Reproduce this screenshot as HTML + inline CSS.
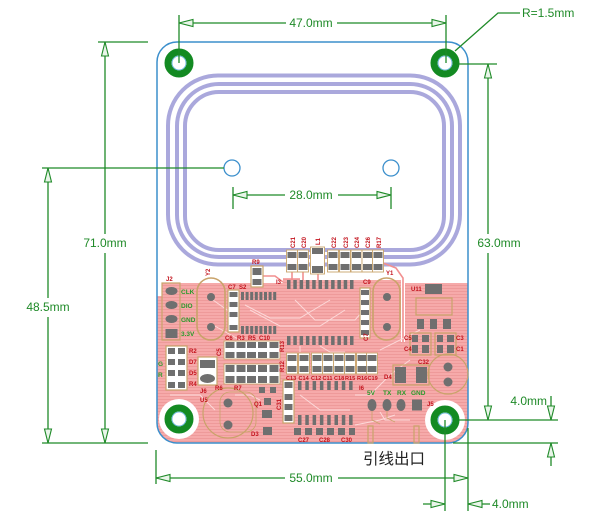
<!DOCTYPE html>
<html><head><meta charset="utf-8"><style>
html,body{margin:0;padding:0;background:#fff;}
svg{display:block;}
.d{fill:#1f8a28;font-family:"Liberation Sans",sans-serif;font-size:12px;}
.r{fill:#c3121c;font-family:"Liberation Sans",sans-serif;font-size:6px;font-weight:bold;}
.g{fill:#2a9a2a;font-family:"Liberation Sans",sans-serif;font-size:6.5px;font-weight:bold;}
</style></head><body>
<svg width="600" height="524" viewBox="0 0 600 524" xmlns="http://www.w3.org/2000/svg">
<defs>
<pattern id="h" width="6" height="3" patternUnits="userSpaceOnUse"><rect width="6" height="3" fill="#f6aaaa"/><rect width="6" height="0.8" fill="#ec9696"/></pattern>
<clipPath id="bd"><rect x="157" y="42" width="311" height="401" rx="20"/></clipPath>
</defs>
<rect width="600" height="524" fill="#fff"/>

<!-- coil -->
<g fill="none" stroke="#aaa8dc" stroke-width="4">
<rect x="168" y="75.5" width="292" height="189" rx="50"/>
<rect x="177" y="84" width="275" height="173" rx="42"/>
<rect x="185" y="92" width="259" height="158" rx="34"/>
</g>

<!-- pink copper region -->
<g clip-path="url(#bd)">
<path d="M150,296 L162,296 L162,283 L283,283 L283,278 L300,278 L300,280 L401,280 L401,342 L405,342 L405,283 L475,283 L475,450 L150,450 Z" fill="url(#h)"/>
<circle cx="179" cy="419" r="20" fill="#fff"/>
<circle cx="445" cy="420" r="20" fill="#fff"/>
<!-- traces -->
<g fill="none" stroke="#f28f8f" stroke-width="1.6">
<polyline points="292,270 292,280"/>
<polyline points="303,270 303,280"/>
<polyline points="383,263 396,268 403,278 403,342"/>
<polyline points="262,276 275,276 283,282"/>
<polyline points="318,273 318,280"/>
</g>
<g fill="none" stroke="#fcd9d9" stroke-width="1">
<polyline points="245,305 270,318 300,318 330,300"/>
<polyline points="250,310 280,326 320,326 345,310"/>
<polyline points="295,300 315,320 355,320 362,312"/>
<polyline points="300,346 300,352"/>
<polyline points="320,346 330,352 345,352"/>
<polyline points="213,300 230,312"/>
<polyline points="213,325 240,340"/>
<polyline points="300,395 320,410 350,410"/>
<polyline points="355,395 370,395 390,375 410,360"/>
<polyline points="380,350 420,330"/>
<polyline points="170,395 200,395 215,410"/>
<polyline points="235,395 250,395 260,400"/>
<polyline points="355,425 380,420 395,415"/>
<polyline points="380,412 385,420 410,420"/>
</g>
<g fill="none" stroke="#c9a36a" stroke-width="0.8">
<rect x="220" y="392" width="36" height="40" rx="10"/>
<polyline points="372,411 372,420 380,424"/>
<polyline points="387,411 387,418 395,422"/>
</g>
</g>

<!-- board outline -->
<rect x="157" y="42" width="311" height="401" rx="20" fill="none" stroke="#3b8fcc" stroke-width="1.5"/>

<!-- mounting holes -->
<g fill="#fff" stroke="#138a22" stroke-width="7">
<circle cx="179" cy="63" r="11"/><circle cx="445" cy="63" r="11"/>
<circle cx="179" cy="419" r="11"/><circle cx="445" cy="420" r="11"/>
</g>
<g fill="none" stroke="#5ab0d8" stroke-width="0.8">
<circle cx="179" cy="63" r="7"/><circle cx="445" cy="63" r="7"/>
<circle cx="179" cy="419" r="7"/><circle cx="445" cy="420" r="7"/>
</g>
<!-- antenna small holes -->
<g fill="#fff" stroke="#3b8fcc" stroke-width="1.3">
<circle cx="232" cy="168" r="8"/><circle cx="391" cy="168" r="8"/>
</g>

<!-- components -->
<g fill="none" stroke="#c9a36a" stroke-width="1.2">
<rect x="162" y="283" width="18" height="57"/>
<rect x="197" y="278" width="28" height="62" rx="14" stroke-width="1.6"/>
<rect x="228" y="290" width="11" height="42" fill="#fff"/>
<rect x="373" y="278" width="27" height="62" rx="13.5" stroke-width="1.6"/>
<rect x="360" y="288" width="10" height="50" fill="#fff"/>
<rect x="251" y="266" width="12" height="21" fill="#fff"/>
<rect x="416" y="298" width="36" height="17"/>
<rect x="393" y="365" width="36" height="20"/>
<circle cx="448" cy="374" r="20"/>
<circle cx="228" cy="413" r="25"/>
<rect x="166" y="346" width="21" height="44" fill="#fff"/>
<rect x="198" y="357" width="19" height="28" fill="#fff"/>
<rect x="283" y="380" width="11" height="43" fill="#fff"/>
<rect x="368" y="426" width="5" height="17"/>
<rect x="414" y="426" width="5" height="17"/>
<rect x="410" y="333" width="21" height="22"/>
<rect x="435" y="333" width="21" height="22"/>
</g>

<g fill="#6f6f6f">
<!-- J2 -->
<ellipse cx="171.5" cy="291" rx="6" ry="4"/><ellipse cx="171.5" cy="305" rx="6" ry="4"/><ellipse cx="171.5" cy="319" rx="6" ry="4"/>
<rect x="165.5" y="329" width="12" height="9"/>
<!-- Y2 / Y1 -->
<circle cx="211" cy="297" r="4"/><circle cx="211" cy="327" r="4"/>
<circle cx="387" cy="297" r="4"/><circle cx="387" cy="327" r="4"/>
<!-- column near Y2 -->
<rect x="229.5" y="292" width="8" height="5"/><rect x="229.5" y="302" width="8" height="5"/><rect x="229.5" y="312" width="8" height="5"/><rect x="229.5" y="325" width="8" height="5"/>
<!-- column near Y1 -->
<rect x="361" y="290" width="8" height="5"/><rect x="361" y="300" width="8" height="5"/><rect x="361" y="310" width="8" height="5"/><rect x="361" y="320" width="8" height="5"/><rect x="361" y="330" width="8" height="5"/>
<!-- R9 -->
<rect x="252.5" y="268" width="9" height="7"/><rect x="252.5" y="279" width="9" height="6"/>
<!-- left IC -->
<rect x="241" y="292" width="3" height="8"/><rect x="245.6" y="292" width="3" height="8"/><rect x="250.2" y="292" width="3" height="8"/><rect x="254.8" y="292" width="3" height="8"/><rect x="259.4" y="292" width="3" height="8"/><rect x="264" y="292" width="3" height="8"/><rect x="268.6" y="292" width="3" height="8"/><rect x="273.2" y="292" width="3" height="8"/>
<rect x="241" y="326" width="3" height="8"/><rect x="245.6" y="326" width="3" height="8"/><rect x="250.2" y="326" width="3" height="8"/><rect x="254.8" y="326" width="3" height="8"/><rect x="259.4" y="326" width="3" height="8"/><rect x="264" y="326" width="3" height="8"/><rect x="268.6" y="326" width="3" height="8"/><rect x="273.2" y="326" width="3" height="8"/>
<!-- middle IC -->
<rect x="287" y="280" width="3.5" height="9"/><rect x="293.3" y="280" width="3.5" height="9"/><rect x="299.6" y="280" width="3.5" height="9"/><rect x="305.9" y="280" width="3.5" height="9"/><rect x="312.2" y="280" width="3.5" height="9"/><rect x="318.5" y="280" width="3.5" height="9"/><rect x="324.8" y="280" width="3.5" height="9"/><rect x="331.1" y="280" width="3.5" height="9"/><rect x="337.4" y="280" width="3.5" height="9"/><rect x="343.7" y="280" width="3.5" height="9"/><rect x="350" y="280" width="3.5" height="9"/>
<rect x="287" y="336" width="3.5" height="9"/><rect x="293.3" y="336" width="3.5" height="9"/><rect x="299.6" y="336" width="3.5" height="9"/><rect x="305.9" y="336" width="3.5" height="9"/><rect x="312.2" y="336" width="3.5" height="9"/><rect x="318.5" y="336" width="3.5" height="9"/><rect x="324.8" y="336" width="3.5" height="9"/><rect x="331.1" y="336" width="3.5" height="9"/><rect x="337.4" y="336" width="3.5" height="9"/><rect x="343.7" y="336" width="3.5" height="9"/><rect x="350" y="336" width="3.5" height="9"/>
<!-- U11 -->
<rect x="425" y="284" width="17" height="10"/>
<rect x="417" y="319" width="7" height="10"/><rect x="430" y="319" width="7" height="10"/><rect x="443" y="319" width="8" height="10"/>
<rect x="412" y="335" width="6" height="7"/><rect x="422" y="335" width="7" height="7"/><rect x="437" y="335" width="6" height="7"/><rect x="447" y="335" width="7" height="7"/>
<rect x="412" y="345" width="6" height="8"/><rect x="422" y="345" width="7" height="8"/><rect x="437" y="345" width="6" height="8"/><rect x="447" y="345" width="7" height="8"/>
<!-- D4 / C32 -->
<rect x="395" y="367" width="11" height="16"/><rect x="416" y="367" width="11" height="16"/>
<circle cx="448" cy="367" r="4.5"/><circle cx="448" cy="382" r="4.5"/>
<!-- J5 -->
<ellipse cx="372" cy="405" rx="4.5" ry="6"/><ellipse cx="387" cy="405" rx="4.5" ry="6"/><ellipse cx="401" cy="405" rx="4.5" ry="6"/>
<rect x="412" y="399.5" width="10" height="11"/>
<!-- lower ICs -->
<rect x="298" y="381" width="3.5" height="9"/><rect x="305.3" y="381" width="3.5" height="9"/><rect x="312.6" y="381" width="3.5" height="9"/><rect x="319.9" y="381" width="3.5" height="9"/><rect x="327.2" y="381" width="3.5" height="9"/><rect x="334.5" y="381" width="3.5" height="9"/><rect x="341.8" y="381" width="3.5" height="9"/><rect x="349.1" y="381" width="3.5" height="9"/>
<rect x="298" y="415" width="3.5" height="10"/><rect x="305.3" y="415" width="3.5" height="10"/><rect x="312.6" y="415" width="3.5" height="10"/><rect x="319.9" y="415" width="3.5" height="10"/><rect x="327.2" y="415" width="3.5" height="10"/><rect x="334.5" y="415" width="3.5" height="10"/><rect x="341.8" y="415" width="3.5" height="10"/><rect x="349.1" y="415" width="3.5" height="10"/>
<rect x="294" y="428" width="7" height="7"/><rect x="305" y="428" width="7" height="7"/><rect x="316" y="428" width="7" height="7"/><rect x="327" y="428" width="7" height="7"/><rect x="338" y="428" width="7" height="7"/><rect x="349" y="428" width="6" height="7"/>
<!-- C31 -->
<rect x="284.5" y="382" width="8" height="6"/><rect x="284.5" y="394" width="8" height="6"/><rect x="284.5" y="404" width="8" height="6"/><rect x="284.5" y="415" width="8" height="6"/>
<!-- Q1/D3 -->
<rect x="259" y="387" width="6" height="6"/><rect x="270" y="387" width="6" height="6"/><rect x="264" y="398" width="7" height="7"/><rect x="262" y="410" width="10" height="8"/><rect x="263" y="427" width="9" height="8"/>
<!-- U5 -->
<circle cx="228" cy="403" r="4.5"/><circle cx="228" cy="425" r="4.5"/>
<!-- left block -->
<rect x="168" y="348" width="7" height="6"/><rect x="178" y="348" width="7" height="6"/>
<rect x="168" y="359" width="7" height="6"/><rect x="178" y="359" width="7" height="6"/>
<rect x="168" y="370" width="7" height="6"/><rect x="178" y="370" width="7" height="6"/>
<rect x="168" y="382" width="7" height="6"/><rect x="178" y="382" width="7" height="6"/>
<!-- J6 -->
<rect x="200" y="360" width="15" height="8"/><ellipse cx="207.5" cy="378.5" rx="7.5" ry="4.5"/>
</g>

<!-- cap footprints: top row -->
<g>
<g fill="#fff" stroke="#c9a36a" stroke-width="0.9">
<rect x="286.5" y="250" width="11" height="22"/><rect x="297.5" y="250" width="11" height="22"/>
<rect x="310.5" y="247" width="14" height="27"/>
<rect x="327.5" y="250" width="11" height="22"/><rect x="339.5" y="250" width="11" height="22"/><rect x="351" y="250" width="11" height="22"/><rect x="362" y="250" width="11" height="22"/><rect x="372.5" y="250" width="11" height="22"/>
</g>
<g fill="#6f6f6f">
<rect x="287.5" y="252" width="9" height="6"/><rect x="287.5" y="264" width="9" height="6"/>
<rect x="298.5" y="252" width="9" height="6"/><rect x="298.5" y="264" width="9" height="6"/>
<rect x="312" y="248" width="11" height="6"/><rect x="312" y="266" width="11" height="7"/>
<rect x="328.5" y="252" width="9" height="6"/><rect x="328.5" y="264" width="9" height="6"/>
<rect x="340.5" y="252" width="9" height="6"/><rect x="340.5" y="264" width="9" height="6"/>
<rect x="352" y="252" width="9" height="6"/><rect x="352" y="264" width="9" height="6"/>
<rect x="363" y="252" width="9" height="6"/><rect x="363" y="264" width="9" height="6"/>
<rect x="373.5" y="252" width="9" height="6"/><rect x="373.5" y="264" width="9" height="6"/>
</g>
</g>

<!-- middle cap row -->
<g fill="#fff" stroke="#c9a36a" stroke-width="0.9">
<rect x="286.5" y="353" width="11" height="21"/><rect x="298.5" y="353" width="11" height="21"/><rect x="311.5" y="353" width="11" height="21"/><rect x="322.5" y="353" width="11" height="21"/><rect x="333.5" y="353" width="11" height="21"/><rect x="344.5" y="353" width="11" height="21"/><rect x="356.5" y="353" width="11" height="21"/><rect x="366.5" y="353" width="11" height="21"/>
<rect x="224" y="341" width="56" height="18"/><rect x="224" y="364" width="56" height="20"/>
</g>
<g fill="#6f6f6f">
<rect x="287.5" y="355" width="9" height="6"/><rect x="287.5" y="366" width="9" height="6"/>
<rect x="299.5" y="355" width="9" height="6"/><rect x="299.5" y="366" width="9" height="6"/>
<rect x="312.5" y="355" width="9" height="6"/><rect x="312.5" y="366" width="9" height="6"/>
<rect x="323.5" y="355" width="9" height="6"/><rect x="323.5" y="366" width="9" height="6"/>
<rect x="334.5" y="355" width="9" height="6"/><rect x="334.5" y="366" width="9" height="6"/>
<rect x="345.5" y="355" width="9" height="6"/><rect x="345.5" y="366" width="9" height="6"/>
<rect x="357.5" y="355" width="9" height="6"/><rect x="357.5" y="366" width="9" height="6"/>
<rect x="367.5" y="355" width="9" height="6"/><rect x="367.5" y="366" width="9" height="6"/>
<!-- cap grid -->
<rect x="225.5" y="342" width="9" height="6"/><rect x="236.5" y="342" width="9" height="6"/><rect x="247" y="342" width="9" height="6"/><rect x="258" y="342" width="9" height="6"/><rect x="269.5" y="342" width="9" height="6"/>
<rect x="225.5" y="352" width="9" height="6"/><rect x="236.5" y="352" width="9" height="6"/><rect x="247" y="352" width="9" height="6"/><rect x="258" y="352" width="9" height="6"/><rect x="269.5" y="352" width="9" height="6"/>
<rect x="225.5" y="365" width="9" height="7"/><rect x="236.5" y="365" width="9" height="7"/><rect x="247" y="365" width="9" height="7"/><rect x="258" y="365" width="9" height="7"/><rect x="269.5" y="365" width="9" height="7"/>
<rect x="225.5" y="376" width="9" height="7"/><rect x="236.5" y="376" width="9" height="7"/><rect x="247" y="376" width="9" height="7"/><rect x="258" y="376" width="9" height="7"/><rect x="269.5" y="376" width="9" height="7"/>
</g>

<!-- red labels -->
<g class="r">
<text x="166" y="281">J2</text>
<text x="205" y="275" transform="rotate(-90 208 273)">Y2</text>
<text x="228" y="289">C7</text><text x="239" y="289">S2</text>
<text x="252" y="264">R9</text>
<text x="276" y="284">I3</text>
<text x="363" y="284">C9</text>
<text x="386" y="275">Y1</text>
<text x="411" y="291">U11</text>
<text x="404" y="340">C5</text><text x="404" y="351">C4</text>
<text x="456" y="340">C3</text><text x="456" y="351">C1</text>
<text x="418" y="364">C32</text>
<text x="384" y="379">D4</text>
<text x="427" y="406">J5</text>
<text x="359" y="390">I6</text>
<text x="189" y="353">R2</text><text x="189" y="364">D7</text><text x="189" y="375">D5</text><text x="189" y="386">R4</text>
<text x="200" y="393">J6</text><text x="200" y="402">U5</text>
<text x="215" y="390">R6</text><text x="234" y="390">R7</text>
<text x="225" y="340">C6</text><text x="237" y="340">R3</text><text x="248" y="340">R5</text><text x="259" y="340">C10</text>
<text x="254" y="406">Q1</text><text x="251" y="436">D3</text>
<text x="286" y="380" font-size="5.6">C13</text><text x="298.5" y="380" font-size="5.6">C14</text><text x="311" y="380" font-size="5.6">C12</text><text x="322.5" y="380" font-size="5.6">C11</text><text x="334" y="380" font-size="5.6">C18</text><text x="345" y="380" font-size="5.6">R15</text><text x="357" y="380" font-size="5.6">R16</text><text x="367.5" y="380" font-size="5.6">C19</text>
<text x="298" y="442">C27</text><text x="319" y="442">C28</text><text x="341" y="442">C30</text>
<text x="0" y="0" transform="translate(284 352) rotate(-90)">R13</text>
<text x="0" y="0" transform="translate(284 372) rotate(-90)">R12</text>
<text x="0" y="0" transform="translate(281 410) rotate(-90)">C31</text>
<text x="0" y="0" transform="translate(221 356) rotate(-90)">C5</text>
<text x="0" y="0" transform="translate(368 341) rotate(-90)">C7</text>
<text x="0" y="0" transform="translate(295 248) rotate(-90)">C21</text>
<text x="0" y="0" transform="translate(306 248) rotate(-90)">C20</text>
<text x="0" y="0" transform="translate(320 245) rotate(-90)">L1</text>
<text x="0" y="0" transform="translate(336 248) rotate(-90)">C22</text>
<text x="0" y="0" transform="translate(348 248) rotate(-90)">C23</text>
<text x="0" y="0" transform="translate(359 248) rotate(-90)">C24</text>
<text x="0" y="0" transform="translate(370 248) rotate(-90)">C26</text>
<text x="0" y="0" transform="translate(381 248) rotate(-90)">R17</text>
</g>
<g class="g">
<text x="181" y="294">CLK</text><text x="181" y="308">DIO</text><text x="181" y="322">GND</text><text x="181" y="336">3.3V</text>
<text x="158" y="366">G</text><text x="158" y="377">R</text>
<text x="367" y="395">5V</text><text x="383" y="395">TX</text><text x="397" y="395">RX</text><text x="411" y="395">GND</text>
</g>

<!-- dimensions -->
<g stroke="#1f8a28" stroke-width="1.3" fill="none">
<!-- 47.0 -->
<line x1="179" y1="15" x2="179" y2="63"/><line x1="446" y1="15" x2="446" y2="63"/>
<line x1="179" y1="23" x2="286" y2="23"/><line x1="337" y1="23" x2="446" y2="23"/>
<!-- R -->
<polyline points="455,51 498,13 520,13"/>
<!-- 71.0 -->
<line x1="98" y1="42" x2="148" y2="42"/><line x1="42" y1="443" x2="148" y2="443"/>
<line x1="105" y1="42" x2="105" y2="234"/><line x1="105" y1="253" x2="105" y2="443"/>
<!-- 48.5 -->
<line x1="42" y1="168" x2="224" y2="168"/>
<line x1="48" y1="168" x2="48" y2="298"/><line x1="48" y1="317" x2="48" y2="443"/>
<!-- 28.0 -->
<line x1="233" y1="187" x2="233" y2="209"/><line x1="391" y1="187" x2="391" y2="209"/>
<line x1="233" y1="195" x2="285" y2="195"/><line x1="338" y1="195" x2="391" y2="195"/>
<!-- 63.0 -->
<line x1="459" y1="64" x2="497" y2="64"/><line x1="459" y1="420" x2="558" y2="420"/>
<line x1="488" y1="64" x2="488" y2="234"/><line x1="488" y1="253" x2="488" y2="420"/>
<!-- 4.0 right -->
<line x1="453" y1="443" x2="558" y2="443"/>
<line x1="551" y1="396" x2="551" y2="420"/><line x1="551" y1="443" x2="551" y2="466"/>
<!-- 55.0 -->
<line x1="156" y1="450" x2="156" y2="484"/><line x1="468" y1="428" x2="468" y2="511"/>
<line x1="156" y1="478" x2="285" y2="478"/><line x1="338" y1="478" x2="468" y2="478"/>
<!-- 4.0 bottom -->
<line x1="445" y1="420" x2="445" y2="511"/>
<line x1="423" y1="504" x2="445" y2="504"/><line x1="468" y1="504" x2="490" y2="504"/>
</g>
<g stroke="#1f8a28" stroke-width="1.1" fill="#e9f5e9">
<polygon points="179,23 193,19.5 193,26.5"/><polygon points="446,23 432,19.5 432,26.5"/>
<polygon points="105,42 101.5,56 108.5,56"/><polygon points="105,443 101.5,429 108.5,429"/>
<polygon points="48,168 44.5,182 51.5,182"/><polygon points="48,443 44.5,429 51.5,429"/>
<polygon points="233,195 247,191.5 247,198.5"/><polygon points="391,195 377,191.5 377,198.5"/>
<polygon points="488,64 484.5,78 491.5,78"/><polygon points="488,420 484.5,406 491.5,406"/>
<polygon points="551,420 547.5,406 554.5,406"/><polygon points="551,443 547.5,457 554.5,457"/>
<polygon points="156,478 170,474.5 170,481.5"/><polygon points="468,478 454,474.5 454,481.5"/>
<polygon points="445,504 431,500.5 431,507.5"/><polygon points="468,504 482,500.5 482,507.5"/>
</g>
<g class="d">
<text x="311" y="27" text-anchor="middle">47.0mm</text>
<text x="522" y="17">R=1.5mm</text>
<text x="105" y="247" text-anchor="middle">71.0mm</text>
<text x="48" y="311" text-anchor="middle">48.5mm</text>
<text x="311" y="199" text-anchor="middle">28.0mm</text>
<text x="499" y="247" text-anchor="middle">63.0mm</text>
<text x="547" y="405" text-anchor="end">4.0mm</text>
<text x="311" y="482" text-anchor="middle">55.0mm</text>
<text x="492" y="508">4.0mm</text>
</g>
<text x="363" y="464" font-family="'Liberation Sans','Noto Sans CJK SC',sans-serif" font-size="15.5" fill="#222">引线出口</text>
</svg>
</body></html>
